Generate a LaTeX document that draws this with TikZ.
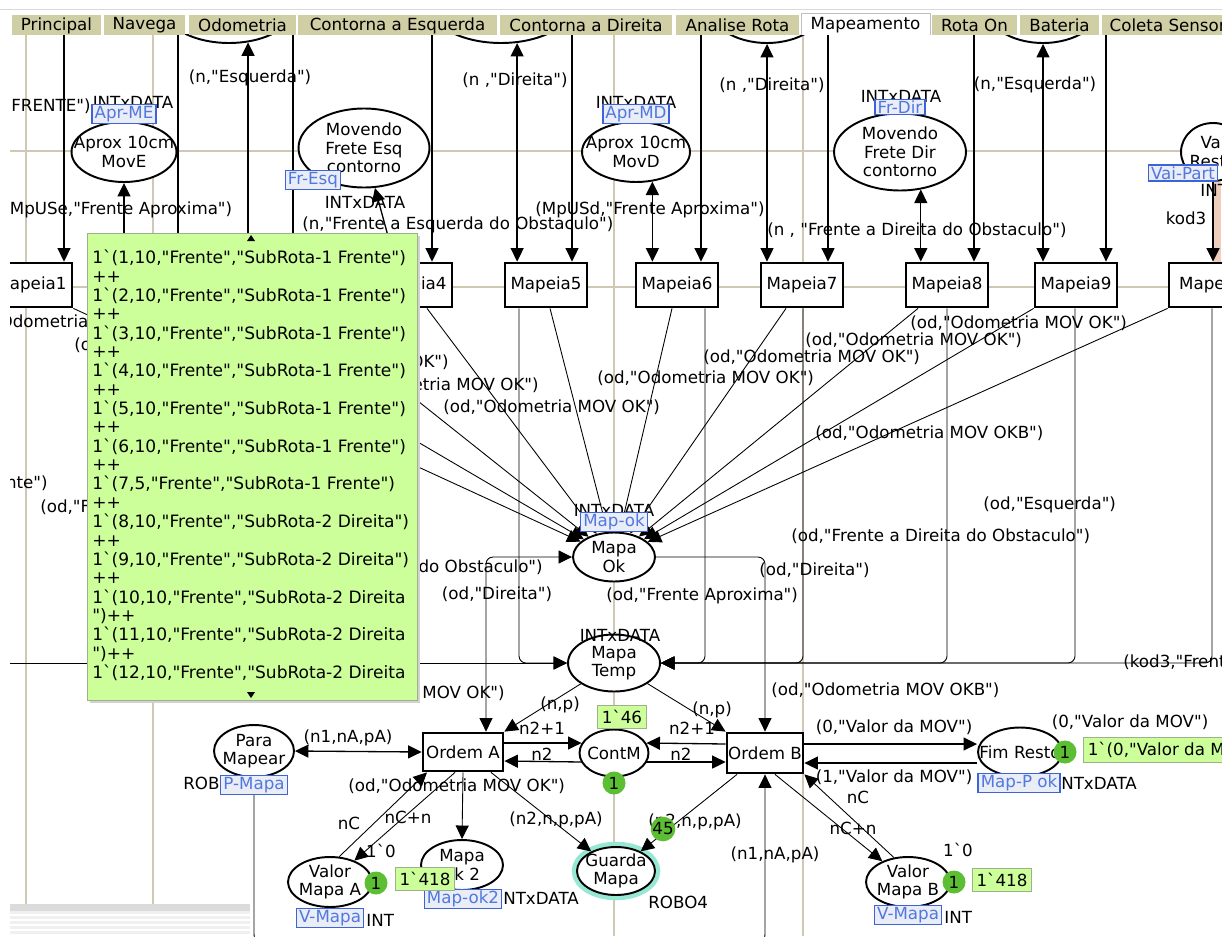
\documentclass[tikz,border=0pt]{standalone}
\usepackage{fontspec}
\newfontfamily\cpnfam{DejaVu Sans}
\usetikzlibrary{shapes.geometric,arrows.meta}

\definecolor{tabbg}{RGB}{208,206,164}
\definecolor{gridc}{RGB}{206,200,180}
\definecolor{boxg}{RGB}{204,255,153}
\definecolor{boxline}{RGB}{160,175,140}
\definecolor{tokg}{RGB}{92,190,50}
\definecolor{tagb}{RGB}{60,100,215}
\definecolor{tagbg}{RGB}{234,237,246}
\definecolor{tagtxt}{RGB}{80,120,225}
\definecolor{glow}{RGB}{150,232,212}
\definecolor{hilite}{RGB}{240,206,188}

\newcommand{\cpnfont}{\cpnfam\fontsize{9.5}{10.5}\selectfont}
\newcommand{\boxfont}{\cpnfam\fontsize{9.7}{11}\selectfont}
\newcommand{\grv}{\textasciigrave}

\begin{document}
\begin{tikzpicture}[x=0.02cm, y=-0.02cm,
    >={Triangle[length=0.27cm,width=0.26cm]},
    every node/.style={font=\cpnfont},
    place/.style={ellipse, draw, line width=1.1pt, fill=white, inner sep=0pt},
    ptxt/.style={label={[align=center,inner sep=0pt]center:#1}},
    trans/.style={rectangle, draw, line width=1.6pt, fill=white, inner sep=0pt,
      minimum width=1.64cm, minimum height=0.88cm},
    fustag/.style={draw=tagb, line width=0.8pt, fill=tagbg, text=tagtxt, inner xsep=1.5pt, inner ysep=0.8pt},
    tok/.style={circle, fill=tokg, inner sep=0pt, minimum size=0.46cm},
    tokbox/.style={fill=boxg, draw=boxline, inner xsep=2.5pt, inner ysep=2.5pt},
    lbl/.style={inner sep=0pt},
    arcline/.style={line width=0.75pt},
    thinarc/.style={line width=0.5pt},
    gridline/.style={gridc, line width=0.6pt}]

  \useasboundingbox (0,0) rectangle (1222,936);
  \draw[gray!30] (0,9) -- (1222,9);

  \begin{scope}
    \clip (10,35) rectangle (1222,936);
    \draw[gridline] (10,151) -- (1222,151);
    \draw[gridline] (10,287) -- (1222,287);
    \foreach \x in {26,153,614,803}
      \draw[gridline] (\x,35) -- (\x,936);

    \draw[hilite, line width=0.14cm] (1217,182) -- (1217,263);

    \node[place, minimum width=2.68cm, minimum height=1.52cm] (top1) at (229,5) {};
    \node[place, minimum width=2.86cm, minimum height=1.52cm] (top2) at (501,5) {};
    \node[place, minimum width=2.34cm, minimum height=1.52cm] (top3) at (767,5) {};
    \node[place, minimum width=2.34cm, minimum height=1.52cm] (top4) at (1043,5) {};

    \node[place, minimum width=2.1cm, minimum height=1.2cm, ptxt={Aprox 10cm\\MovE}] (move) at (124,152) {};
    \node[place, minimum width=2.62cm, minimum height=1.58cm, ptxt={Movendo\\Frete Esq\\contorno}] (fresq) at (364,148) {};
    \node[place, minimum width=2.16cm, minimum height=1.2cm, ptxt={Aprox 10cm\\MovD}] (movd) at (636,152) {};
    \node[place, minimum width=2.64cm, minimum height=1.54cm, ptxt={Movendo\\Frete Dir\\contorno}] (frdir) at (900,152) {};
    \node[place, minimum width=1.28cm, minimum height=1.16cm, ptxt={Vai\\Resto}] (vai) at (1213,152) {};

    \node[trans] (m1) at (31,285) {Mapeia1};
    \coordinate (m2) at (150,285);
    \coordinate (m3) at (272,285);
    \node[trans] (m4) at (411,285) {Mapeia4};
    \node[trans] (m5) at (546,285) {Mapeia5};
    \node[trans] (m6) at (677,285) {Mapeia6};
    \node[trans] (m7) at (802,285) {Mapeia7};
    \node[trans] (m8) at (947,285) {Mapeia8};
    \node[trans] (m9) at (1076,285) {Mapeia9};
    \node[trans, minimum width=2.04cm] (m10) at (1220,285) {Mapeia10};

    \node[place, minimum width=1.64cm, minimum height=0.98cm, ptxt={Mapa\\Ok}] (mapaok) at (614,557) {};
    \node[place, minimum width=1.84cm, minimum height=1.14cm, ptxt={Mapa\\Temp}] (mtemp) at (614,663) {};

    \node[place, minimum width=1.6cm, minimum height=1.04cm, ptxt={Para\\Mapear}] (para) at (254,751) {};
    \node[trans, minimum width=1.6cm, minimum height=0.76cm] (ordA) at (463,752) {Ordem A};
    \node[place, minimum width=1.38cm, minimum height=0.94cm, ptxt={ContM}] (contm) at (614,753) {};
    \node[trans, minimum width=1.52cm, minimum height=0.8cm] (ordB) at (765,753) {Ordem B};
    \node[place, minimum width=1.68cm, minimum height=0.98cm, ptxt={Fim Resto}] (fim) at (1020,752) {};
    \node[place, minimum width=1.68cm, minimum height=1.0cm, ptxt={Valor\\Mapa A}] (vmA) at (330,882) {};
    \node[place, minimum width=1.64cm, minimum height=1.0cm, ptxt={Mapa\\ok 2}] (mok2) at (462,865) {};
    \node[place, minimum width=1.56cm, minimum height=0.96cm, preaction={draw=glow, line width=6pt},
      ptxt={Guarda\\Mapa}] (guarda) at (616,871) {};
    \node[place, minimum width=1.68cm, minimum height=1.0cm, ptxt={Valor\\Mapa B}] (vmB) at (908,882) {};

    \foreach \x/\t in {64/m1, 432/m4, 572/m5, 701/m6, 828/m7, 974/m8, 1106/m9} {
      \coordinate (s\x) at (\x,20);
      \draw[arcline,->] (s\x) -- (s\x |- \t.north);
    }
    \coordinate (s178) at (178,20);
    \coordinate (s293) at (293,20);
    \draw[arcline] (s178) -- (s178 |- m2);
    \draw[arcline] (s293) -- (s293 |- m3);
    \draw[arcline,->] (move.south |- m2) -- (move.south);
    \draw[arcline,->] (top1.-63 |- m3) -- (top1.-63);
    \draw[arcline,<->] (top2.-67) -- (top2.-67 |- m5.north);
    \draw[arcline,<->] (movd.-61) -- (movd.-61 |- m6.north);
    \draw[arcline,<->] (top3.south) -- (top3.south |- m7.north);
    \draw[arcline,<->] (frdir.-61) -- (frdir.-61 |- m8.north);
    \draw[arcline,<->] (top4.south) -- (top4.south |- m9.north);
    \draw[arcline,->] (vai.south) -- (vai.south |- m10.north);
    \draw[arcline,->] ([shift={(-16,0)}]m4.north) -- (fresq);

    \draw[thinarc,->] (m1.south east) -- (mapaok);
    \draw[thinarc,->] (m2) -- (mapaok);
    \draw[thinarc,->] (m3) -- (mapaok);
    \foreach \t/\d in {m4/16, m5/4, m6/-5, m7/-16, m8/-29}
      \draw[thinarc,->] ([shift={(\d,0)}]\t.south) -- (mapaok);
    \draw[thinarc,->] (m9.south west) -- (mapaok);
    \draw[thinarc,->] (m10.south west) -- (mapaok);

    \coordinate (lft) at (0,663);
    \draw[thinarc,->] (lft) -- (mtemp.west);
    \draw[thinarc,->,rounded corners=4pt] ([shift={(-27,0)}]m5.south) |- (mtemp.west);
    \foreach \t/\d in {m6/28, m7/1, m8/0, m9/-1, m10/-8}
      \draw[thinarc,->,rounded corners=4pt] ([shift={(\d,0)}]\t.south) |- (mtemp.east);

    \draw[thinarc,<->,rounded corners=4pt] ([shift={(23,0)}]ordA.north) |- (mapaok.west);
    \draw[thinarc,->,rounded corners=4pt] (mapaok.east) -| (ordB.north);
    \draw[thinarc,->] (mtemp) -- (ordA.north east);
    \draw[thinarc,->] (mtemp) -- (ordB.north west);

    \draw[arcline,->] ([shift={(0,-9)}]ordA.east) -- ([shift={(3,-10)}]contm.west);
    \draw[arcline,->] ([shift={(3,9)}]contm.west) -- ([shift={(0,9)}]ordA.east);
    \draw[arcline,->] ([shift={(0,-9)}]ordB.west) -- ([shift={(-3,-10)}]contm.east);
    \draw[arcline,->] ([shift={(-3,9)}]contm.east) -- ([shift={(0,9)}]ordB.west);
    \draw[arcline,->] ([shift={(0,-9)}]ordB.east) -- ([shift={(0,-9)}]ordB.east -| fim.west);
    \draw[arcline,->] ([shift={(0,10)}]ordB.east -| fim.west) -- ([shift={(0,10)}]ordB.east);
    \draw[arcline,<->] (para.east) -- (ordA.west);

    \draw[thinarc,->] (ordA.south) -- (mok2.north);
    \draw[thinarc,->] ([shift={(28,0)}]ordA.south) -- (guarda);
    \draw[thinarc,->] ([shift={(-8,0)}]ordA.south) -- (vmA);
    \draw[thinarc,->] (vmA.70) -- ([shift={(-36,0)}]ordA.south);
    \draw[thinarc,->] ([shift={(-28,0)}]ordB.south) -- (guarda);
    \draw[thinarc,->] ([shift={(10,0)}]ordB.south) -- (vmB);
    \draw[thinarc,->] (vmB.120) -- (ordB.south east);
    \coordinate (bot) at (500,948);
    \draw[thinarc,->,rounded corners=8pt] (para.south) |- (bot) -| (ordB.south);

    \node[lbl] (a1) at (250,78) {(n,"Esquerda")};
    \node[lbl] (a2) at (515,80) {(n ,"Direita")};
    \node[lbl] (a3) at (772,85) {(n ,"Direita")};
    \node[lbl] (a4) at (1035,85) {(n,"Esquerda")};
    \node[lbl, anchor=west] (a5) at (11,106) {FRENTE")};
    \node[lbl, anchor=west] (a6) at (3,210) {(MpUSe,"Frente Aproxima")};
    \node[lbl, anchor=west] (a7) at (302,225) {(n,"Frente a Esquerda do Obstaculo")};
    \node[lbl, anchor=west] (a8) at (535,210) {(MpUSd,"Frente Aproxima")};
    \node[lbl, anchor=west] (a9) at (767,230) {(n , "Frente a Direita do Obstaculo")};
    \node[lbl] (a10) at (1186,218) {kod3};

    \node[lbl, anchor=west] (b1) at (-41,322) {(od,"Odometria MOV OK")};
    \node[lbl, anchor=west] (b2) at (74,345) {(od,"Odometria MOV OK")};
    \node[lbl, anchor=east] (b3) at (48,483) {(od,"Frente")};
    \node[lbl, anchor=west] (b4) at (40,508) {(od,"Frente Aproxima")};
    \node[lbl, anchor=east] (b5) at (449,362) {(od,"Odometria MOV OK")};
    \node[lbl, anchor=east] (b6) at (539,385) {(od,"Odometria MOV OK")};
    \node[lbl, anchor=west] (b7) at (443,407) {(od,"Odometria MOV OK")};
    \node[lbl, anchor=west] (b8) at (597,378) {(od,"Odometria MOV OK")};
    \node[lbl, anchor=west] (b9) at (703,357) {(od,"Odometria MOV OK")};
    \node[lbl, anchor=west] (b10) at (805,340) {(od,"Odometria MOV OK")};
    \node[lbl, anchor=west] (b11) at (910,323) {(od,"Odometria MOV OK")};
    \node[lbl, anchor=west] (b12) at (815,433) {(od,"Odometria MOV OKB")};
    \node[lbl, anchor=west] (b13) at (983,505) {(od,"Esquerda")};
    \node[lbl, anchor=west] (b14) at (791,536) {(od,"Frente a Direita do Obstaculo")};
    \node[lbl, anchor=east] (b15) at (543,568) {(od,"Frente a Esquerda do Obstaculo")};
    \node[lbl] (b16) at (497,594) {(od,"Direita")};
    \node[lbl, anchor=west] (b17) at (759,570) {(od,"Direita")};
    \node[lbl, anchor=west] (b18) at (606,596) {(od,"Frente Aproxima")};
    \node[lbl, anchor=west] (b19) at (1123,662) {(kod3,"Frente")};
    \node[lbl, anchor=west] (b20) at (771,690) {(od,"Odometria MOV OKB")};
    \node[lbl, anchor=east] (b21) at (505,693) {(od,"Odometria MOV OK")};

    \node[lbl] (c1) at (348,738) {(n1,nA,pA)};
    \node[lbl] (c2) at (560,705) {(n,p)};
    \node[lbl] (c3) at (712,710) {(n,p)};
    \node[lbl] (c4) at (542,728) {n2+1};
    \node[lbl] (c5) at (542,754) {n2};
    \node[lbl] (c6) at (692,728) {n2+1};
    \node[lbl] (c7) at (681,754) {n2};
    \node[lbl, anchor=west] (c8) at (348,786) {(od,"Odometria MOV OK")};
    \node[lbl] (c9) at (349,823) {nC};
    \node[lbl] (c10) at (408,817) {nC+n};
    \node[lbl] (c11) at (381,851) {1\grv0};
    \node[lbl] (c12) at (556,820) {(n2,n,p,pA)};
    \node[lbl] (c13) at (695,822) {(n2,n,p,pA)};
    \node[lbl] (c14) at (775,855) {(n1,nA,pA)};
    \node[lbl] (c15) at (894,727) {(0,"Valor da MOV")};
    \node[lbl] (c16) at (894,777) {(1,"Valor da MOV")};
    \node[lbl] (c17) at (858,797) {nC};
    \node[lbl] (c18) at (853,828) {nC+n};
    \node[lbl] (c19) at (958,850) {1\grv0};
    \node[lbl] (c20) at (1130,722) {(0,"Valor da MOV")};

    \node[lbl] (d1) at (133,102) {INTxDATA};
    \node[lbl] (d2) at (365,202) {INTxDATA};
    \node[lbl] (d3) at (636,102) {INTxDATA};
    \node[lbl] (d4) at (901,96) {INTxDATA};
    \node[lbl, anchor=west] (d5) at (1200,190) {INT};
    \node[lbl] (d6) at (614,510) {INTxDATA};
    \node[lbl] (d7) at (620,635) {INTxDATA};
    \node[lbl, anchor=west] (d8) at (183,783) {ROBO4};
    \node[lbl, anchor=west] (d9) at (366,920) {INT};
    \node[lbl, anchor=west] (d10) at (498,898) {INTxDATA};
    \node[lbl, anchor=west] (d11) at (648,902) {ROBO4};
    \node[lbl, anchor=west] (d12) at (944,917) {INT};
    \node[lbl, anchor=west] (d13) at (1056,783) {INTxDATA};

    \node[fustag] (g1) at (124,114) {Apr-ME};
    \node[fustag] (g2) at (313,180) {Fr-Esq};
    \node[fustag] (g3) at (636,114) {Apr-MD};
    \node[fustag] (g4) at (900,107) {Fr-Dir};
    \node[fustag] (g5) at (1183,173) {Vai-Part};
    \node[fustag] (g6) at (614,522) {Map-ok};
    \node[fustag] (g7) at (254,785) {P-Mapa};
    \node[fustag] (g8) at (330,918) {V-Mapa};
    \node[fustag] (g9) at (463,899) {Map-ok2};
    \node[fustag] (g10) at (908,915) {V-Mapa};
    \node[fustag] (g11) at (1019,783) {Map-P ok};

    \node[tokbox] (k1) at (425,879) {1\grv418};
    \node[tokbox] (k2) at (1002,880) {1\grv418};
    \node[tokbox] (k3) at (622,717) {1\grv46};
    \node[tokbox, anchor=west] (k4) at (1083,750) {1\grv(0,"Valor da MOV")};
    \node[tok] (t1) at (376,883) {1};
    \node[tok] (t2) at (954,882) {1};
    \node[tok] (t3) at (614,783) {1};
    \node[tok] (t4) at (1065,752) {1};
    \node[tok] (t5) at (663,829) {45};

    \fill[gray!35] (90,236) rectangle (420,703);
    \node[draw=boxline, fill=boxg, anchor=north west, inner sep=0pt,
      minimum width=6.6cm, minimum height=9.34cm] (vals) at (87,233) {};
    \fill (247,241) -- (255,241) -- (251,235) -- cycle;
    \fill (247,692) -- (255,692) -- (251,698) -- cycle;
    \foreach \tx [count=\i from 0] in {
        {1\grv(1,10,"Frente","SubRota-1 Frente")}, ++,
        {1\grv(2,10,"Frente","SubRota-1 Frente")}, ++,
        {1\grv(3,10,"Frente","SubRota-1 Frente")}, ++,
        {1\grv(4,10,"Frente","SubRota-1 Frente")}, ++,
        {1\grv(5,10,"Frente","SubRota-1 Frente")}, ++,
        {1\grv(6,10,"Frente","SubRota-1 Frente")}, ++,
        {1\grv(7,5,"Frente","SubRota-1 Frente")}, ++,
        {1\grv(8,10,"Frente","SubRota-2 Direita")}, ++,
        {1\grv(9,10,"Frente","SubRota-2 Direita")}, ++,
        {1\grv(10,10,"Frente","SubRota-2 Direita}, {")++},
        {1\grv(11,10,"Frente","SubRota-2 Direita}, {")++},
        {1\grv(12,10,"Frente","SubRota-2 Direita}}
      \node[lbl, anchor=west, font=\boxfont] (v\i) at (92,{258+18.85*\i}) {\tx};

    \fill[gray!12] (10,904) rectangle (250,936);
    \fill[gray!28] (10,904) rectangle (250,911);
    \foreach \y in {915,920,925,930,935}
      \draw[white, line width=0.8pt] (10,\y) -- (250,\y);
  \end{scope}

  \foreach \xa/\xb/\tx in {12/101/Principal, 104/185/Navega, 189/296/Odometria,
      298/497/Contorna a Esquerda, 500/672/Contorna a Direita, 676/799/Analise Rota,
      932/1017/Rota On, 1020/1099/Bateria, 1102/1252/Coleta Sensores} {
    \fill[tabbg] (\xa,15) rectangle (\xb,35);
    \node (tab\xa) at ({(\xa+\xb)/2},25.5) {\tx};
  }
  \draw[gray!50, fill=white] (801,35) -- (801,13) -- (930,13) -- (930,35);
  \node (tab801) at (865.5,25) {Mapeamento};
\end{tikzpicture}
\end{document}
